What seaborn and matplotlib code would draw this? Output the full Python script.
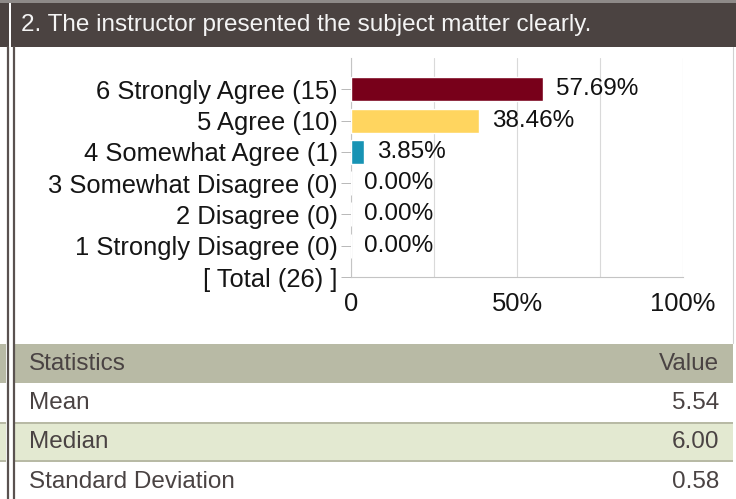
import matplotlib
matplotlib.use("Agg")
import matplotlib.pyplot as plt
import seaborn as sns
from matplotlib.patches import Rectangle
from matplotlib.lines import Line2D

# --- data ---
question = "2. The instructor presented the subject matter clearly."
answers = ["6 Strongly Agree", "5 Agree", "4 Somewhat Agree",
           "3 Somewhat Disagree", "2 Disagree", "1 Strongly Disagree"]
counts = [15, 10, 1, 0, 0, 0]
percents = [57.69, 38.46, 3.85, 0.00, 0.00, 0.00]
total = 26
bar_colors = ["#78001a", "#ffd55f", "#1793b4", "#999999", "#999999", "#999999"]
x_ticks = [0, 50, 100]
x_tick_labels = ["0", "50%", "100%"]
stat_names = ["Mean", "Median", "Standard Deviation"]
stat_values = ["5.54", "6.00", "0.58"]

W, H = 736, 499

sns.set_style("white")
plt.rcParams["font.family"] = ["Liberation Sans", "DejaVu Sans"]

fig = plt.figure(figsize=(W / 100, H / 100), dpi=100)


def fx(x):
    return x / W


def fy(y):
    return 1 - y / H


def box(x0, y0, x1, y1, color):
    fig.patches.append(Rectangle((fx(x0), fy(y1)), fx(x1) - fx(x0), fy(y0) - fy(y1),
                                 transform=fig.transFigure, color=color, lw=0, zorder=0))


def vline(x, y0, y1, color, lw):
    fig.lines.append(Line2D([fx(x), fx(x)], [fy(y0), fy(y1)], transform=fig.transFigure,
                            color=color, lw=lw, zorder=1))


# header band
box(0, 0, W, 3, "#8e8a88")
box(0, 3, 9, 47, "#4b4341")
box(11, 3, W, 47, "#4b4341")
fig.text(fx(21), fy(25), question, color="#f4f4f4", fontsize=17.5, va="center", ha="left")

# panel borders
vline(7.5, 47, H, "#5a5250", 1.6)
vline(13.5, 47, H, "#5a5250", 1.6)
vline(733, 47, 343, "#d0d0d0", 0.8)

# --- bar chart ---
ax = fig.add_axes([fx(351), fy(277), fx(683) - fx(351), fy(58) - fy(277)])
labels = [f"{a} ({c})" for a, c in zip(answers, counts)]
sns.barplot(x=percents, y=labels, hue=labels, palette=bar_colors, legend=False,
            saturation=1, width=0.77, orient="h", ax=ax, zorder=3)

for i, p in enumerate(percents):
    ax.annotate(f"{p:.2f}%", (p, i), xytext=(9.5, 0), textcoords="offset points",
                va="center", ha="left", fontsize=17.5, color="#111111")

ax.set_xlim(0, 100)
ax.set_ylim(6, -1)
ax.set_yticks(range(len(labels) + 1))
ax.set_yticklabels(labels + [f"[ Total ({total}) ]"], fontsize=18.4, color="#151515")
ax.set_xticks(x_ticks)
ax.set_xticklabels(x_tick_labels, fontsize=18.4, color="#151515")
ax.set_xticks([25, 75], minor=True)
ax.grid(True, axis="x", which="both", color="#d9d9d9", lw=0.8, zorder=0)
ax.set_xlabel("")
ax.set_ylabel("")
ax.tick_params(axis="y", length=7, width=0.7, color="#b8b8b8", pad=2.5, left=True)
ax.tick_params(axis="x", which="both", length=0, pad=11)
for side in ["top", "right"]:
    ax.spines[side].set_visible(False)
for side in ["left", "bottom"]:
    ax.spines[side].set_color("#c4c4c4")
    ax.spines[side].set_linewidth(0.8)
ax.patch.set_alpha(0)

# --- statistics table ---
head_c = "#b8baa5"
alt_c = "#e3e9d1"
txt_c = "#4a4343"
box(0, 344, 6, 383, head_c)
box(14, 344, 733, 383, head_c)
box(0, 422, 6, 424, head_c)
box(14, 422, 733, 424, head_c)
box(0, 424, 6, 460, alt_c)
box(14, 424, 733, 460, alt_c)
box(0, 460, 6, 462, head_c)
box(14, 460, 733, 462, head_c)

fig.text(fx(29), fy(364), "Statistics", color=txt_c, fontsize=17.5, va="center", ha="left")
fig.text(fx(719), fy(364), "Value", color=txt_c, fontsize=17.5, va="center", ha="right")
row_y = [403, 442, 482]
for name, val, y in zip(stat_names, stat_values, row_y):
    fig.text(fx(29), fy(y), name, color=txt_c, fontsize=17.5, va="center", ha="left")
    fig.text(fx(719), fy(y), val, color=txt_c, fontsize=17.5, va="center", ha="right")

fig.savefig("out.png", dpi=100)
